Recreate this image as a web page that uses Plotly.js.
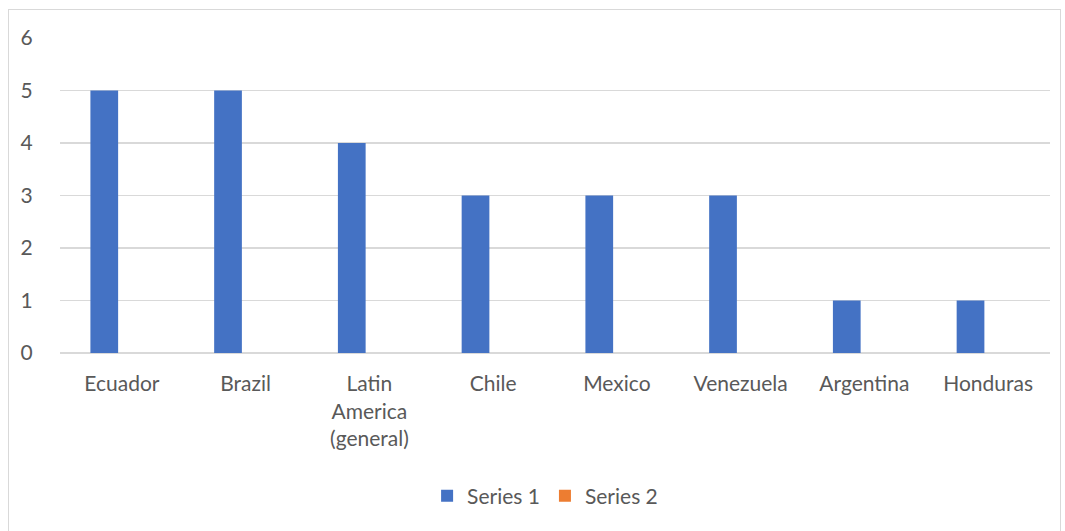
<!DOCTYPE html>
<html>
<head>
<meta charset="utf-8">
<script src="https://cdn.plot.ly/plotly-3.0.1.min.js"></script>
<style>
html,body{margin:0;padding:0;background:#fff;}
#wrap{position:relative;width:1065px;height:531px;}
#chart{position:absolute;left:0;top:0;width:1065px;height:531px;}
#frame{position:absolute;left:8px;top:9px;width:1053px;height:540px;border:1px solid #d9d9d9;pointer-events:none;box-sizing:border-box;}
</style>
</head>
<body>
<div id="wrap"><div id="chart"></div><div id="frame"></div></div>
<script>
const categories = ["Ecuador", "Brazil", "Latin<br>America<br>(general)", "Chile", "Mexico", "Venezuela", "Argentina", "Honduras"];
const series1 = [5, 5, 4, 3, 3, 3, 1, 1];
const series2 = [0, 0, 0, 0, 0, 0, 0, 0];
const yTicks = [0, 1, 2, 3, 4, 5, 6];

const FONT = "Lato, 'Open Sans', sans-serif";
const FS = 21;
const W = 0.224;
const traces = [
  {type: "bar", name: "Series 1", x: categories, y: series1, width: W, offset: -(W + 0.135 * W),
   marker: {color: "#4472C4", line: {width: 0}}, hoverinfo: "x+y"},
  {type: "bar", name: "Series 2", x: categories, y: series2, width: W, offset: 0.135 * W,
   marker: {color: "#ED7D31", line: {width: 0}}, hoverinfo: "x+y"}
];
const layout = {
  width: 1065, height: 531,
  margin: {l: 60, r: 15, t: 38, b: 178},
  paper_bgcolor: "#fff", plot_bgcolor: "#fff",
  barmode: "group",
  showlegend: true,
  font: {family: FONT, size: FS, color: "#595959"},
  xaxis: {type: "category", showgrid: false, showline: false, zeroline: false,
          ticks: "outside", ticklen: 12, tickcolor: "rgba(0,0,0,0)",
          tickfont: {family: FONT, size: FS, color: "#595959"}},
  yaxis: {range: [0, 6], tickvals: yTicks, showgrid: true, gridcolor: "#d9d9d9", gridwidth: 1.3,
          zeroline: true, zerolinecolor: "#d9d9d9", zerolinewidth: 1.3, showline: false,
          ticks: "outside", ticklen: 22, tickcolor: "rgba(0,0,0,0)",
          tickfont: {family: FONT, size: FS, color: "#595959"}},
  legend: {orientation: "h", x: 0.49, xanchor: "center", y: -0.454, yanchor: "middle",
           font: {family: FONT, size: FS, color: "#595959"}, itemwidth: 30, traceorder: "normal"}
};
Plotly.newPlot("chart", traces, layout, {displayModeBar: false, staticPlot: true});
</script>
</body>
</html>
